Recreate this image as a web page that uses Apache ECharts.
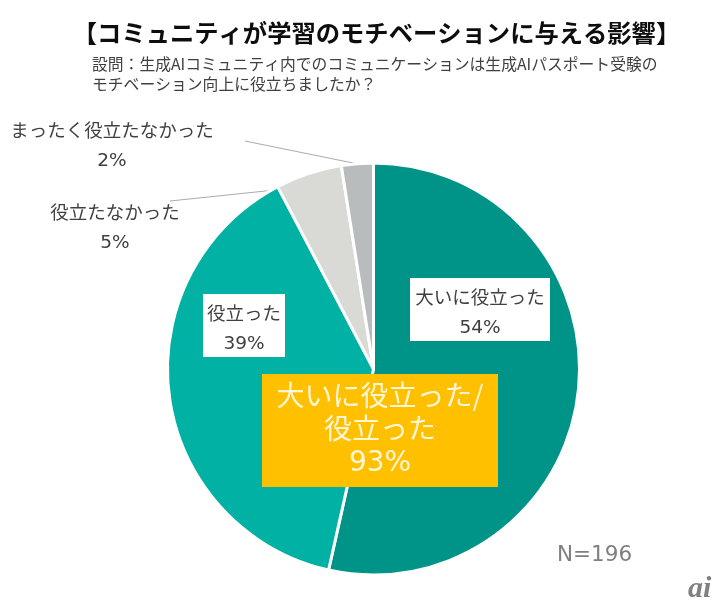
<!DOCTYPE html>
<html>
<head>
<meta charset="utf-8">
<style>
html, body { margin: 0; padding: 0; background: #fff; }
#chart { width: 718px; height: 608px; }
</style>
<script src="https://cdn.jsdelivr.net/npm/echarts@6/dist/echarts.min.js"></script>
</head>
<body>
<div id="chart"></div>
<script>
// 回答の区分
const categories = ['大いに役立った', '役立った', '役立たなかった', 'まったく役立たなかった'];
// 扇の大きさ
const sliceValues = [53.5, 38.8, 5.2, 2.5];
// 図に書かれている割合
const percentLabels = ['54%', '39%', '5%', '2%'];
const sliceColors = ['#009488', '#00B1A4', '#D9D9D6', '#B9BCBC'];

const titleText = '【コミュニティが学習のモチベーションに与える影響】';
const questionLines = [
    '設問：生成AIコミュニティ内でのコミュニケーションは生成AIパスポート受験の',
    'モチベーション向上に役立ちましたか？'
];
const summaryLines = ['大いに役立った/', '役立った'];
const summaryPercent = '93%';
const sampleText = 'N=196';

const jpFont = '"Noto Sans CJK JP", sans-serif';
const numFont = '"DejaVu Sans", sans-serif';

// ラベルの配置
const labelPlaces = [
    { x: 480, y: 309.5, width: 140, bg: '#fff' },
    { x: 244, y: 325.5, width: 82, bg: '#fff' },
    { x: 115, y: 224, width: 140, bg: 'transparent', line: [[275, 190], [170, 201]] },
    { x: 112, y: 142, width: 210, bg: 'transparent', line: [[358, 164], [245, 141]] }
];

const chart = echarts.init(document.getElementById('chart'));

chart.setOption({
    backgroundColor: '#fff',
    animation: false,
    title: {
        text: titleText,
        left: 371.5,
        top: 16,
        textAlign: 'center',
        textStyle: { fontFamily: jpFont, fontSize: 24.3, fontWeight: 'bold', color: '#0d0d0d' }
    },
    graphic: [
        {
            type: 'text',
            left: 92,
            top: 54,
            style: {
                text: questionLines.join('\n'),
                font: '15.8px ' + jpFont,
                lineHeight: 20,
                fill: '#404040'
            }
        },
        {
            type: 'rect',
            shape: { x: 262, y: 374, width: 236, height: 113 },
            style: { fill: '#FFC000' },
            z: 10
        },
        {
            type: 'text',
            x: 380,
            y: 431,
            style: {
                text: summaryLines.map(s => `{jp|${s}}`).join('\n') + `\n{num|${summaryPercent}}`,
                align: 'center',
                verticalAlign: 'middle',
                fill: '#FFF6D8',
                rich: {
                    jp: { font: '28px ' + jpFont, lineHeight: 33, fill: '#FFF6D8', align: 'center' },
                    num: { font: '28px ' + numFont, lineHeight: 39, fill: '#FFF6D8', align: 'center' }
                }
            },
            z: 11
        },
        {
            type: 'text',
            x: 557,
            y: 555,
            style: {
                text: sampleText,
                font: '21.5px ' + numFont,
                verticalAlign: 'middle',
                fill: '#7F7F7F'
            }
        },
        {
            type: 'text',
            x: 688,
            y: 589,
            style: {
                text: 'ai',
                font: 'italic bold 30px "Liberation Serif", serif',
                align: 'left',
                verticalAlign: 'middle',
                fill: '#808080'
            }
        }
    ],
    series: [
        {
            type: 'pie',
            center: [373.5, 369],
            radius: [0, 206],
            startAngle: 90,
            clockwise: true,
            avoidLabelOverlap: false,
            data: categories.map((name, i) => ({
                name: name,
                value: sliceValues[i],
                itemStyle: { color: sliceColors[i] },
                label: {
                    backgroundColor: labelPlaces[i].bg,
                    width: labelPlaces[i].width
                },
                labelLine: { show: i > 1 }
            })),
            itemStyle: { borderColor: '#fff', borderWidth: 3 },
            label: {
                show: true,
                position: 'outside',
                align: 'center',
                formatter: params => `{name|${params.name}}\n{pct|${percentLabels[params.dataIndex]}}`,
                rich: {
                    name: { fontFamily: jpFont, fontSize: 18.5, lineHeight: 38, color: '#404040', align: 'center' },
                    pct: { fontFamily: numFont, fontSize: 18.5, lineHeight: 25, color: '#404040', align: 'center' }
                }
            },
            labelLine: {
                lineStyle: { color: '#ABABAB', width: 1 }
            },
            labelLayout: params => {
                const place = labelPlaces[params.dataIndex];
                return {
                    x: place.x,
                    y: place.y,
                    align: 'center',
                    verticalAlign: 'middle',
                    labelLinePoints: place.line ? [place.line[0], place.line[0], place.line[1]] : undefined
                };
            },
            emphasis: { disabled: true }
        }
    ]
});
</script>
</body>
</html>
